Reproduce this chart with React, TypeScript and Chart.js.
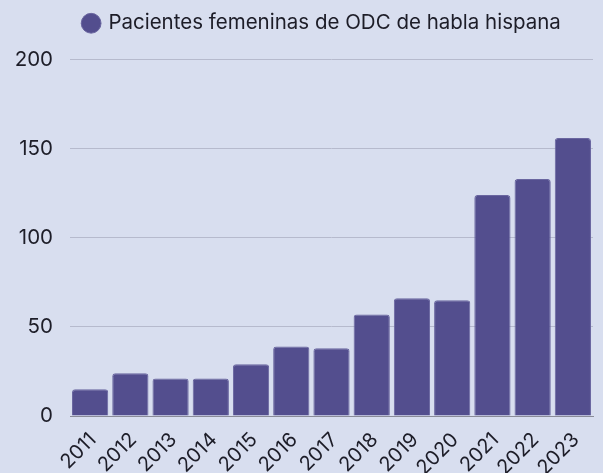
import React, { useEffect, useRef } from "react";
import { Chart, registerables } from "chart.js";

Chart.register(...registerables);

const years = ["2011", "2012", "2013", "2014", "2015", "2016", "2017", "2018", "2019", "2020", "2021", "2022", "2023"];
const patients = [15, 24, 21, 21, 29, 39, 38, 57, 66, 65, 124, 133, 156];
const seriesLabel = "Pacientes femeninas de ODC de habla hispana";

const BG = "#d8deef";
const BAR = "#534e8e";
const TEXT = "#1d1d28";
const FONT = "Inter, 'Noto Sans', sans-serif";

export default function App() {
  const ref = useRef<HTMLCanvasElement | null>(null);
  useEffect(() => {
    document.body.style.margin = "0";
    const bgPlugin = {
      id: "bg",
      beforeDraw(chart: any) {
        const { ctx, width, height } = chart;
        ctx.save();
        ctx.fillStyle = BG;
        ctx.fillRect(0, 0, width, height);
        ctx.restore();
      },
      afterLayout(chart: any) {
        const lg = chart.legend;
        if (!lg) return;
        const dx = 18;
        const dy = -16;
        lg.left += dx;
        lg.right += dx;
        lg.top += dy;
        lg.bottom += dy;
      },
    };
    const chart = new Chart(ref.current!, {
      type: "bar",
      data: {
        labels: years,
        datasets: [
          {
            label: seriesLabel,
            data: patients,
            backgroundColor: BAR,
            borderColor: "#6a66a0",
            borderWidth: 1,
            borderRadius: 3,
            borderSkipped: "bottom",
            barPercentage: 0.9,
            categoryPercentage: 1,
          },
        ],
      },
      options: {
        animation: false,
        responsive: false,
        layout: { padding: { left: 16, right: 10, top: 4, bottom: 0 } },
        plugins: {
          legend: {
            position: "top",
            labels: {
              usePointStyle: true,
              pointStyle: "circle",
              boxWidth: 14,
              boxHeight: 14,
              padding: 25,
              color: TEXT,
              font: { family: FONT, size: 20.5 },
            },
          },
          tooltip: { enabled: false },
        },
        scales: {
          x: {
            grid: { display: false, drawTicks: false },
            border: { display: true, color: "#8a8c98", width: 1 },
            ticks: {
              color: TEXT,
              font: { family: FONT, size: 20 },
              minRotation: 45,
              maxRotation: 45,
              autoSkip: false,
              padding: 12,
              labelOffset: 3,
            },
            afterFit(scale: any) {
              scale.height = 57;
              scale.paddingLeft = 0;
              scale.paddingRight = 0;
              scale.getPadding = () => ({ left: 0, right: 0, top: 0, bottom: 0 });
            },
          },
          y: {
            min: 0,
            max: 200,
            grid: { color: "#b6bacd", lineWidth: 1, drawTicks: false },
            border: { display: false },
            ticks: {
              stepSize: 50,
              color: TEXT,
              font: { family: FONT, size: 20.5 },
              padding: 17,
            },
            afterFit(scale: any) {
              scale.width = 54;
            },
          },
        },
      },
      plugins: [bgPlugin],
    });
    return () => chart.destroy();
  }, []);
  return (
    <div style={{ width: 603, height: 473, background: BG }}>
      <canvas ref={ref} width={603} height={473} style={{ display: "block" }} />
    </div>
  );
}
